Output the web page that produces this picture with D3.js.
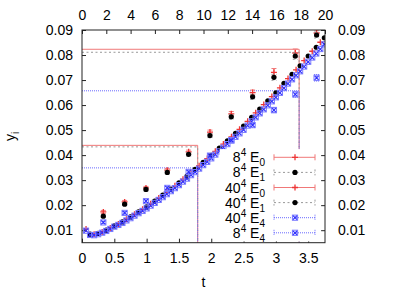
<!DOCTYPE html>
<html>
<head>
<meta charset="utf-8">
<script src="https://cdnjs.cloudflare.com/ajax/libs/d3/7.8.5/d3.min.js"></script>
<style>
  body { margin: 0; background: #fff; }
  text { font-family: "Liberation Sans", Arial, sans-serif; }
</style>
</head>
<body>
<div id="my_dataviz"></div>
<script>
// ---- data ----
// coarse lattice (8^4), off the curve
var tCoarse = [0.33, 0.66, 0.99, 1.32, 1.65, 1.98, 2.31, 2.64, 2.97, 3.30, 3.63];
var e0Coarse = [0.0173, 0.0213, 0.0269, 0.0340, 0.0413, 0.0492, 0.0565, 0.0650, 0.0731, 0.0808, 0.0888];
var e0CoarseErr = [0.0006, 0.0006, 0.0006, 0.0007, 0.0007, 0.0008, 0.0009, 0.0010, 0.0015, 0.0016, 0.0012];
var e1Coarse = [0.0156, 0.0204, 0.0263, 0.0331, 0.0403, 0.0478, 0.0553, 0.0633, 0.0711, 0.0796, 0.0880];
var e1CoarseErr = [0.0005, 0.0005, 0.0006, 0.0006, 0.0007, 0.0008, 0.0009, 0.0010, 0.0012, 0.0013, 0.0012];
var e4Coarse = [0.0131, 0.0169, 0.0216, 0.0269, 0.0333, 0.0398, 0.0460, 0.0520, 0.0580, 0.0643, 0.0709];
var e4CoarseErr = [0.0005, 0.0005, 0.0006, 0.0006, 0.0007, 0.0008, 0.0009, 0.0010, 0.0011, 0.0012, 0.0013];

// fine lattice (40^4), on the curve
var tE1Fine = [0.125, 0.25, 0.375, 0.5, 0.625, 0.75, 0.875, 1.0, 1.125, 1.25, 1.375, 1.5, 1.625, 1.75, 1.875,
               2.0, 2.125, 2.25, 2.375, 2.5, 2.625, 2.75, 2.875, 3.0, 3.125, 3.25, 3.375, 3.5, 3.625, 3.75];
var e1Fine = [0.0084, 0.0087, 0.0100, 0.0117, 0.0133, 0.0153, 0.0173, 0.0193, 0.0216, 0.0240, 0.0264, 0.0289, 0.0316, 0.0343, 0.0371,
              0.0399, 0.0428, 0.0457, 0.0487, 0.0516, 0.0551, 0.0584, 0.0617, 0.0649, 0.0687, 0.0723, 0.0757, 0.0796, 0.0831, 0.0869];
var tE0Fine = [0.0625, 0.1875, 0.3125, 0.4375, 0.5625, 0.6875, 0.8125, 0.9375, 1.0625, 1.1875, 1.3125, 1.4375, 1.5625, 1.6875, 1.8125,
               1.9375, 2.0625, 2.1875, 2.3125, 2.4375, 2.5625, 2.6875, 2.8125, 2.9375, 3.0625, 3.1875, 3.3125, 3.4375, 3.5625, 3.6875];
var e0Fine = [0.0105, 0.0084, 0.0093, 0.0109, 0.0125, 0.0144, 0.0164, 0.0184, 0.0206, 0.0229, 0.0253, 0.0278, 0.0304, 0.0331, 0.0358,
              0.0386, 0.0415, 0.0444, 0.0473, 0.0503, 0.0535, 0.0569, 0.0602, 0.0634, 0.0669, 0.0706, 0.0741, 0.0778, 0.0815, 0.0851];
var tE4Fine = [0.0625, 0.125, 0.1875, 0.25, 0.3125, 0.375, 0.4375, 0.5, 0.5625, 0.625, 0.6875, 0.75, 0.8125, 0.875, 0.9375,
               1.0, 1.0625, 1.125, 1.1875, 1.25, 1.3125, 1.375, 1.4375, 1.5, 1.5625, 1.625, 1.6875, 1.75, 1.8125, 1.875,
               1.9375, 2.0, 2.0625, 2.125, 2.1875, 2.25, 2.3125, 2.375, 2.4375, 2.5, 2.5625, 2.625, 2.6875, 2.75, 2.8125,
               2.875, 2.9375, 3.0, 3.0625, 3.125, 3.1875, 3.25, 3.3125, 3.375, 3.4375, 3.5, 3.5625, 3.625, 3.6875, 3.75];
var e4Fine = [0.0098, 0.0081, 0.0080, 0.0084, 0.0090, 0.0097, 0.0105, 0.0114, 0.0121, 0.0129, 0.0139, 0.0148, 0.0158, 0.0168, 0.0177,
              0.0187, 0.0198, 0.0209, 0.0221, 0.0232, 0.0244, 0.0256, 0.0268, 0.0280, 0.0294, 0.0306, 0.0320, 0.0332, 0.0346, 0.0360,
              0.0373, 0.0387, 0.0402, 0.0415, 0.0430, 0.0444, 0.0458, 0.0473, 0.0487, 0.0501, 0.0518, 0.0535, 0.0551, 0.0567, 0.0583,
              0.0599, 0.0615, 0.0631, 0.0649, 0.0668, 0.0686, 0.0703, 0.0719, 0.0735, 0.0754, 0.0773, 0.0790, 0.0806, 0.0824, 0.0843];

// reference crosshair lines (t, y), one per line style
var refT = [1.79, 1.79, 1.79, 3.36, 3.36, 3.36];
var refY = [0.0439, 0.0433, 0.0349, 0.0823, 0.0811, 0.0657];
var refKind = ["e0", "e1", "e4", "e0", "e1", "e4"];

// ticks and labels
var xTicks = [0, 0.5, 1, 1.5, 2, 2.5, 3, 3.5];
var x2Ticks = [0, 2, 4, 6, 8, 10, 12, 14, 16, 18, 20];
var yTicks = [0.01, 0.02, 0.03, 0.04, 0.05, 0.06, 0.07, 0.08, 0.09];
var legendBase = ["8", "8", "40", "40", "40", "8"];
var legendSub = ["0", "1", "0", "1", "4", "4"];
var legendKind = ["e0", "e1", "e0", "e1", "e4", "e4"];

// ---- styles ----
var lineStyle = {
  e0: {stroke: "#f07878", dash: null},
  e1: {stroke: "#999999", dash: "2,2.5"},
  e4: {stroke: "#6a6aff", dash: "1,1"}
};

var margin = {top: 30, right: 90, bottom: 48.3, left: 82},
    width_graph = 415 - margin.left - margin.right,
    height_graph = 291 - margin.top - margin.bottom;

var svg = d3.select("#my_dataviz")
  .append("svg")
    .attr("width", 415)
    .attr("height", 291)
  .append("g")
    .attr("transform", "translate(" + margin.left + "," + margin.top + ")");

var xScale = d3.scaleLinear().domain([0, 3.76]).range([0, width_graph]);
var x2Scale = d3.scaleLinear().domain([0, 20]).range([0, width_graph]);
var yScale = d3.scaleLinear().domain([0.005, 0.09]).range([height_graph, 0]);

svg.append("clipPath").attr("id", "clip")
  .append("rect").attr("width", width_graph).attr("height", height_graph);

function styleAxis(g) {
  g.select(".domain").remove();
  g.selectAll(".tick line").attr("stroke", "#222");
  g.selectAll("text").attr("fill", "#000");
  g.attr("font-size", 14).attr("font-family", "Liberation Sans, Arial, sans-serif");
}

svg.append("g")
    .attr("transform", "translate(0," + height_graph + ")")
    .call(d3.axisBottom(xScale).tickValues(xTicks).tickSize(-4).tickPadding(10).tickFormat(d3.format("")))
    .call(styleAxis);
svg.append("g")
    .call(d3.axisTop(x2Scale).tickValues(x2Ticks).tickSize(-4).tickPadding(10).tickFormat(d3.format("")))
    .call(styleAxis);
svg.append("g")
    .call(d3.axisLeft(yScale).tickValues(yTicks).tickSize(-4).tickPadding(9).tickFormat(d3.format(".2f")))
    .call(styleAxis);
svg.append("g")
    .attr("transform", "translate(" + width_graph + ",0)")
    .call(d3.axisRight(yScale).tickValues(yTicks).tickSize(-4).tickPadding(13).tickFormat(d3.format(".2f")))
    .call(styleAxis);

// axis labels
svg.append("text")
    .attr("x", width_graph / 2)
    .attr("y", height_graph + 44)
    .attr("text-anchor", "middle")
    .attr("font-size", 14)
    .text("t");

var ylab = svg.append("text")
    .attr("transform", "translate(" + (15 - margin.left) + "," + (height_graph / 2) + ") rotate(-90)")
    .attr("text-anchor", "middle")
    .attr("font-size", 14);
ylab.append("tspan").text("y");
ylab.append("tspan").attr("font-size", 10).attr("dy", 4).text("i");

var plot = svg.append("g").attr("clip-path", "url(#clip)");

// crosshair reference lines
refT.forEach(function(t, i) {
  var st = lineStyle[refKind[i]];
  plot.append("path")
    .attr("fill", "none")
    .attr("stroke", st.stroke)
    .attr("stroke-width", 1)
    .attr("stroke-dasharray", st.dash)
    .attr("d", "M" + xScale(0) + "," + yScale(refY[i]) +
               "H" + xScale(t) + "V" + yScale(0.005));
});

// markers
function drawPlus(g, cx, cy) {
  g.append("path").attr("stroke", "#ee3535").attr("stroke-width", 1.3).attr("fill", "none")
    .attr("d", "M" + (cx - 3) + "," + cy + "h6M" + cx + "," + (cy - 3) + "v6");
}
function drawDot(g, cx, cy) {
  g.append("circle").attr("cx", cx).attr("cy", cy).attr("r", 2.6).attr("fill", "#000");
}
function drawBoxX(g, cx, cy) {
  g.append("rect").attr("x", cx - 2.6).attr("y", cy - 2.6).attr("width", 5.2).attr("height", 5.2)
    .attr("fill", "none").attr("stroke", "#7a7aff").attr("stroke-width", 1);
  g.append("path").attr("stroke", "#2a2aff").attr("stroke-width", 1.1)
    .attr("d", "M" + (cx - 2) + "," + (cy - 2) + "l4,4M" + (cx + 2) + "," + (cy - 2) + "l-4,4");
}
var markerFn = {e0: drawPlus, e1: drawDot, e4: drawBoxX};

function errorbars(g, ts, ys, errs, kind) {
  var st = lineStyle[kind];
  ts.forEach(function(t, i) {
    var cx = xScale(t), y1 = yScale(ys[i] - errs[i]), y2 = yScale(ys[i] + errs[i]);
    g.append("path")
      .attr("fill", "none")
      .attr("stroke", st.stroke)
      .attr("stroke-dasharray", st.dash)
      .attr("d", "M" + cx + "," + y1 + "V" + y2 +
                 "M" + (cx - 2.5) + "," + y1 + "h5M" + (cx - 2.5) + "," + y2 + "h5");
  });
}

function points(g, ts, ys, kind) {
  ts.forEach(function(t, i) { markerFn[kind](g, xScale(t), yScale(ys[i])); });
}

// 8^4 E0, 8^4 E1, 40^4 E0, 40^4 E1, 40^4 E4, 8^4 E4
errorbars(plot, tCoarse, e0Coarse, e0CoarseErr, "e0");
points(plot, tCoarse, e0Coarse, "e0");
errorbars(plot, tCoarse, e1Coarse, e1CoarseErr, "e1");
points(plot, tCoarse, e1Coarse, "e1");
points(plot, tE0Fine, e0Fine, "e0");
points(plot, tE1Fine, e1Fine, "e1");
points(plot, tE4Fine, e4Fine, "e4");
errorbars(plot, tCoarse, e4Coarse, e4CoarseErr, "e4");
points(plot, tCoarse, e4Coarse, "e4");

// legend (opaque key)
var key = svg.append("g");
key.append("rect")
    .attr("x", xScale(2.13)).attr("y", yScale(0.0424))
    .attr("width", xScale(3.70) - xScale(2.13))
    .attr("height", yScale(0.0055) - yScale(0.0424))
    .attr("fill", "#fff");

legendBase.forEach(function(b, i) {
  var ly = 127.3 + i * 15.1;
  var txt = key.append("text")
      .attr("x", 183).attr("y", ly + 5)
      .attr("text-anchor", "end")
      .attr("font-size", 14);
  txt.append("tspan").text(b);
  txt.append("tspan").attr("font-size", 10).attr("dy", -6).text("4");
  txt.append("tspan").attr("dy", 6).text(" E");
  txt.append("tspan").attr("font-size", 10).attr("dy", 4).text(legendSub[i]);

  var st = lineStyle[legendKind[i]];
  key.append("path")
    .attr("fill", "none")
    .attr("stroke", st.stroke)
    .attr("stroke-dasharray", st.dash)
    .attr("d", "M192," + ly + "H233M192," + (ly - 3) + "v6M233," + (ly - 3) + "v6");
  markerFn[legendKind[i]](key, 213, ly);
});

// border
svg.append("rect")
    .attr("width", width_graph)
    .attr("height", height_graph)
    .attr("fill", "none")
    .attr("stroke", "#222")
    .attr("stroke-width", 1);
</script>
</body>
</html>
